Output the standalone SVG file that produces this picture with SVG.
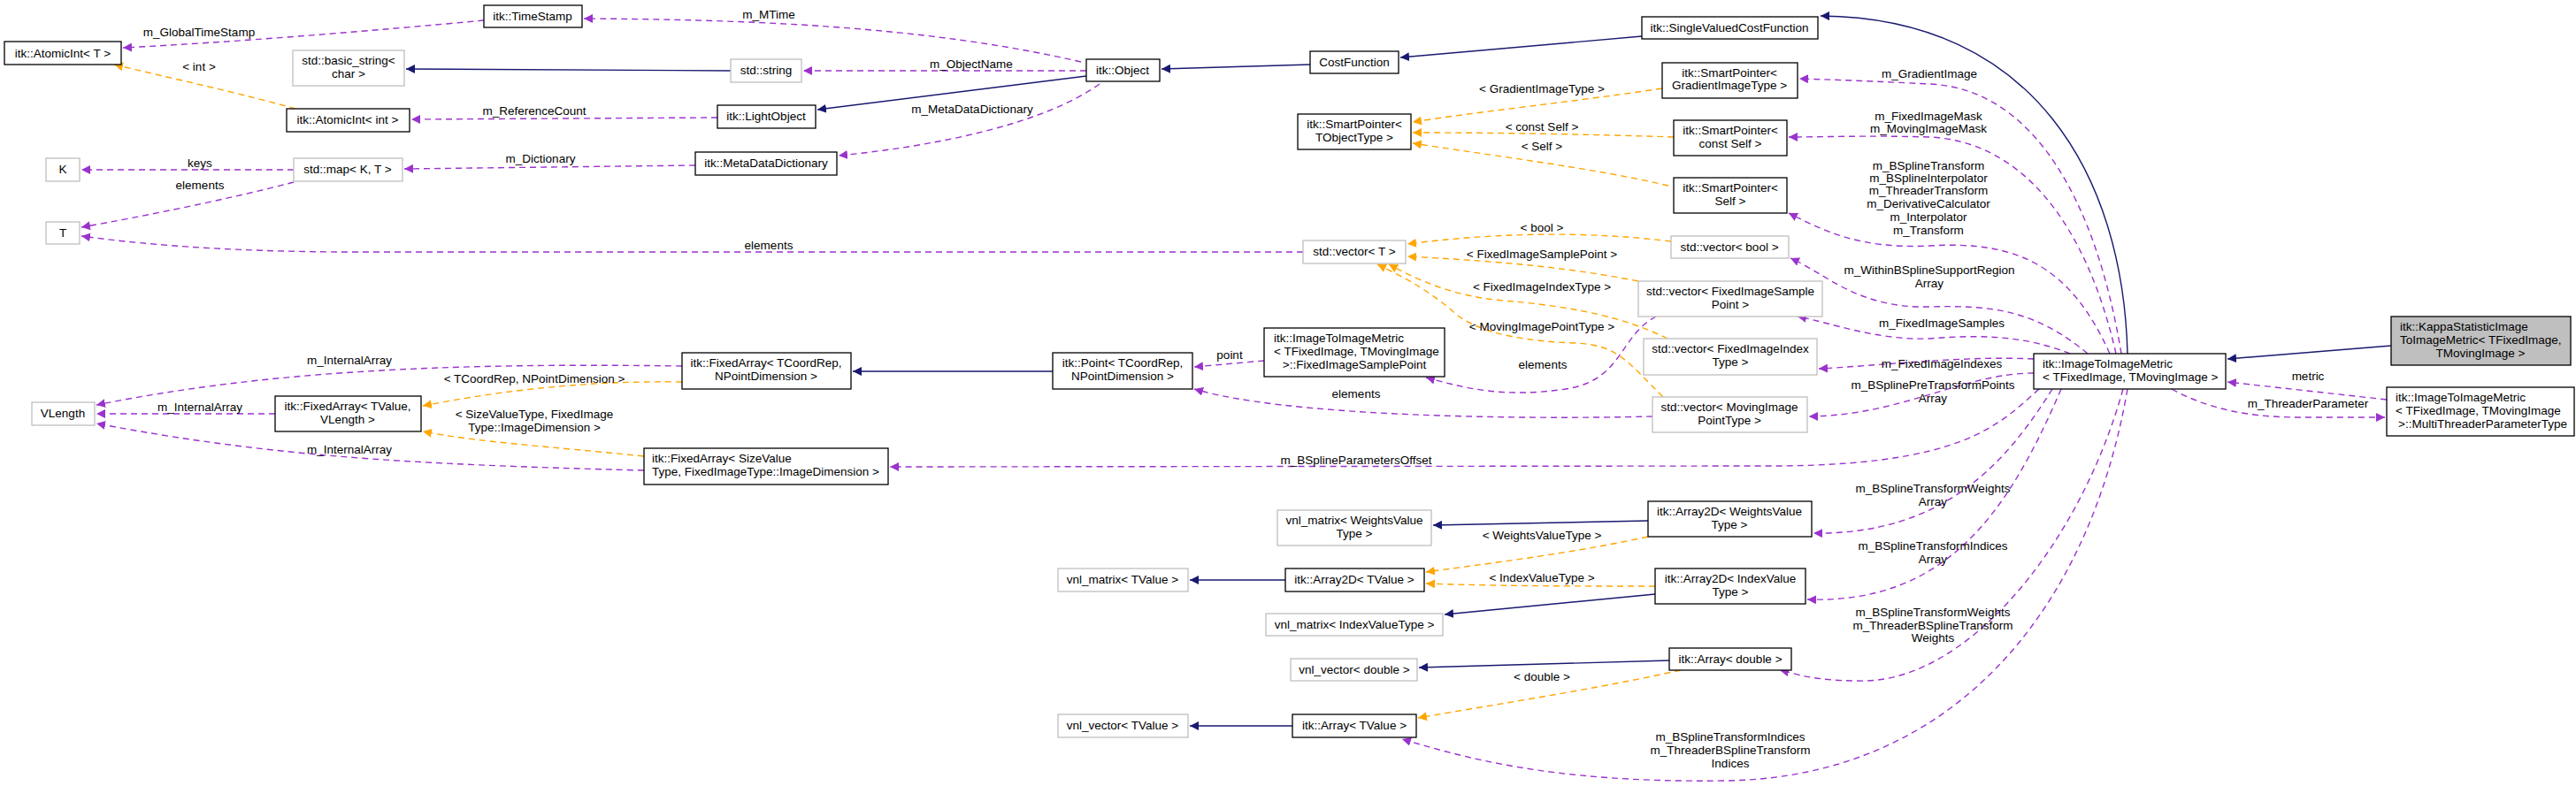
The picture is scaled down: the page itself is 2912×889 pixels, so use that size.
<svg xmlns="http://www.w3.org/2000/svg" width="2912" height="889" viewBox="0 0 2912 889">
<style>
text{font-family:"Liberation Sans",Arial,sans-serif;font-size:13.5px;fill:#000}
.c{text-anchor:middle}
.n rect{fill:#fff;stroke:#000;stroke-width:1.3}
.g rect{stroke:#bfbfbf}
.k rect{fill:#bfbfbf}
.e path{fill:none;stroke-width:1.4}
.p{stroke:#9a32cd;stroke-dasharray:7,5;marker-end:url(#mp)}
.o{stroke:#ffa500;stroke-dasharray:7,5;marker-end:url(#mo)}
.h{stroke:#191970;marker-end:url(#mh)}
</style>
<defs>
<marker id="mp" viewBox="0 0 10 10" refX="10" refY="5" markerWidth="10" markerHeight="10" markerUnits="userSpaceOnUse" orient="auto"><path d="M0,0L10,5L0,10z" fill="#9a32cd"/></marker>
<marker id="mo" viewBox="0 0 10 10" refX="10" refY="5" markerWidth="10" markerHeight="10" markerUnits="userSpaceOnUse" orient="auto"><path d="M0,0L10,5L0,10z" fill="#ffa500"/></marker>
<marker id="mh" viewBox="0 0 10 10" refX="10" refY="5" markerWidth="10" markerHeight="10" markerUnits="userSpaceOnUse" orient="auto"><path d="M0,0L10,5L0,10z" fill="#191970"/></marker>
</defs>
<rect width="2912" height="889" fill="#fff"/>
<g class="e" id="edges">
<path class="p" d="M547,23 C420,35 260,48 139,54"/>
<path class="p" d="M1222,70 C1050,30 850,22 660,21"/>
<path class="p" d="M1228,80 L908,80"/>
<path class="p" d="M811,133 L465,135"/>
<path class="p" d="M1243,95 C1180,140 1060,165 948,176"/>
<path class="p" d="M786,187 L457,191"/>
<path class="p" d="M332,192 L92,192"/>
<path class="p" d="M332,206 C260,225 160,245 92,257"/>
<path class="p" d="M1473,285 L400,285 C250,285 150,275 92,267"/>
<path class="p" d="M771,414 C500,410 300,420 109,458"/>
<path class="p" d="M311,468 L109,468"/>
<path class="p" d="M728,532 C450,525 300,515 109,479"/>
<path class="p" d="M1429,408 L1350,415"/>
<path class="p" d="M1868,471 C1700,475 1450,470 1350,440"/>
<path class="p" d="M1872,358 C1830,380 1835,430 1770,440 C1700,450 1660,440 1612,427"/>
<path class="p" d="M2398,400 C2370,230 2300,100 2181,95 C2120,92 2070,90 2034,89"/>
<path class="p" d="M2392,400 C2360,260 2290,160 2181,155 C2110,153 2060,155 2022,155"/>
<path class="p" d="M2385,400 C2340,300 2280,272 2181,278 C2100,282 2060,260 2022,241"/>
<path class="p" d="M2360,400 C2300,350 2250,345 2181,347 C2100,349 2065,310 2024,292"/>
<path class="p" d="M2340,400 C2290,380 2240,378 2181,383 C2120,385 2070,365 2032,358"/>
<path class="p" d="M2299,406 C2220,402 2120,414 2056,417"/>
<path class="p" d="M2299,422 C2220,422 2150,470 2045,471"/>
<path class="p" d="M2305,440 C2260,480 2220,527 2000,527 L1006,528"/>
<path class="p" d="M2320,440 C2270,520 2200,605 2050,603"/>
<path class="p" d="M2330,440 C2270,580 2200,683 2043,678"/>
<path class="p" d="M2400,440 C2350,620 2220,775 2100,770 C2050,770 2030,762 2012,758"/>
<path class="p" d="M2405,440 C2360,700 2200,880 1950,883 C1750,886 1650,855 1585,836"/>
<path class="p" d="M2455,440 C2500,465 2550,472 2600,472 L2696,472"/>
<path class="p" d="M2698,452 L2518,432"/>
<path class="o" d="M334,123 C270,105 200,90 129,73"/>
<path class="o" d="M771,432 C650,430 550,445 478,459"/>
<path class="o" d="M728,516 C620,505 540,500 478,488"/>
<path class="o" d="M1879,100 C1780,115 1680,125 1597,138"/>
<path class="o" d="M1892,155 C1800,152 1700,150 1597,150"/>
<path class="o" d="M1886,210 C1800,190 1700,178 1597,162"/>
<path class="o" d="M1889,273 C1800,262 1700,262 1591,276"/>
<path class="o" d="M1852,318 C1760,300 1680,295 1591,290"/>
<path class="o" d="M1885,383 C1830,355 1760,345 1700,340 C1640,335 1600,315 1570,299"/>
<path class="o" d="M1880,449 C1840,410 1830,390 1780,388 C1700,385 1660,370 1640,350 C1610,325 1580,310 1557,299"/>
<path class="o" d="M1863,607 C1780,625 1700,635 1612,647"/>
<path class="o" d="M1871,663 C1780,663 1700,663 1612,660"/>
<path class="o" d="M1900,758 C1800,780 1700,795 1603,812"/>
<path class="h" d="M826,80 L459,78"/>
<path class="h" d="M1228,86 L924,124"/>
<path class="h" d="M1481,73 L1313,78"/>
<path class="h" d="M1856,41 L1583,65"/>
<path class="h" d="M2405,400 C2400,200 2300,20 2058,18"/>
<path class="h" d="M2703,391 L2518,406"/>
<path class="h" d="M1190,420 L964,420"/>
<path class="h" d="M1863,589 L1620,594"/>
<path class="h" d="M1453,656 L1345,656"/>
<path class="h" d="M1871,672 L1633,695"/>
<path class="h" d="M1887,747 L1604,755"/>
<path class="h" d="M1461,821 L1345,821"/>
</g>
<g id="labels">
<text class="c" x="225" y="41">m_GlobalTimeStamp</text>
<text class="c" x="869" y="21">m_MTime</text>
<text class="c" x="1098" y="77">m_ObjectName</text>
<text class="c" x="604" y="130">m_ReferenceCount</text>
<text class="c" x="1099" y="128">m_MetaDataDictionary</text>
<text class="c" x="611" y="184">m_Dictionary</text>
<text class="c" x="226" y="189">keys</text>
<text class="c" x="226" y="214">elements</text>
<text class="c" x="869" y="282">elements</text>
<text class="c" x="395" y="412">m_InternalArray</text>
<text class="c" x="226" y="465">m_InternalArray</text>
<text class="c" x="395" y="513">m_InternalArray</text>
<text class="c" x="1390" y="406">point</text>
<text class="c" x="1533" y="450">elements</text>
<text class="c" x="1744" y="417">elements</text>
<text class="c" x="1533" y="525">m_BSplineParametersOffset</text>
<text class="c" x="2181" y="88">m_GradientImage</text>
<text class="c" x="2180" y="136">m_FixedImageMask</text>
<text class="c" x="2180" y="150">m_MovingImageMask</text>
<text class="c" x="2180" y="192">m_BSplineTransform</text>
<text class="c" x="2180" y="206">m_BSplineInterpolator</text>
<text class="c" x="2180" y="220">m_ThreaderTransform</text>
<text class="c" x="2180" y="235">m_DerivativeCalculator</text>
<text class="c" x="2180" y="250">m_Interpolator</text>
<text class="c" x="2180" y="265">m_Transform</text>
<text class="c" x="2181" y="310">m_WithinBSplineSupportRegion</text>
<text class="c" x="2181" y="325">Array</text>
<text class="c" x="2195" y="370">m_FixedImageSamples</text>
<text class="c" x="2195" y="416">m_FixedImageIndexes</text>
<text class="c" x="2185" y="440">m_BSplinePreTransformPoints</text>
<text class="c" x="2185" y="455">Array</text>
<text class="c" x="2185" y="557">m_BSplineTransformWeights</text>
<text class="c" x="2185" y="572">Array</text>
<text class="c" x="2185" y="622">m_BSplineTransformIndices</text>
<text class="c" x="2185" y="637">Array</text>
<text class="c" x="2185" y="697">m_BSplineTransformWeights</text>
<text class="c" x="2185" y="712">m_ThreaderBSplineTransform</text>
<text class="c" x="2185" y="726">Weights</text>
<text class="c" x="1956" y="838">m_BSplineTransformIndices</text>
<text class="c" x="1956" y="853">m_ThreaderBSplineTransform</text>
<text class="c" x="1956" y="868">Indices</text>
<text class="c" x="2609" y="430">metric</text>
<text class="c" x="2609" y="461">m_ThreaderParameter</text>
<text class="c" x="225" y="80">&lt; int &gt;</text>
<text class="c" x="604" y="433">&lt; TCoordRep, NPointDimension &gt;</text>
<text class="c" x="604" y="473">&lt; SizeValueType, FixedImage</text>
<text class="c" x="604" y="488">Type::ImageDimension &gt;</text>
<text class="c" x="1743" y="105">&lt; GradientImageType &gt;</text>
<text class="c" x="1743" y="148">&lt; const Self &gt;</text>
<text class="c" x="1743" y="170">&lt; Self &gt;</text>
<text class="c" x="1743" y="262">&lt; bool &gt;</text>
<text class="c" x="1743" y="292">&lt; FixedImageSamplePoint &gt;</text>
<text class="c" x="1743" y="329">&lt; FixedImageIndexType &gt;</text>
<text class="c" x="1743" y="374">&lt; MovingImagePointType &gt;</text>
<text class="c" x="1743" y="610">&lt; WeightsValueType &gt;</text>
<text class="c" x="1743" y="658">&lt; IndexValueType &gt;</text>
<text class="c" x="1743" y="770">&lt; double &gt;</text>
</g>
<g class="n" id="atomicT"><rect x="5" y="47" width="132" height="26"/><text class="c" x="71" y="65">itk::AtomicInt&lt; T &gt;</text></g>
<g class="n" id="timestamp"><rect x="547" y="6" width="111" height="25"/><text class="c" x="602" y="23">itk::TimeStamp</text></g>
<g class="n g" id="basicstring"><rect x="331" y="57" width="126" height="40"/><text class="c" x="394" y="73">std::basic_string&lt;</text><text class="c" x="394" y="88">char &gt;</text></g>
<g class="n" id="atomicint"><rect x="324" y="123" width="139" height="26"/><text class="c" x="393" y="140">itk::AtomicInt&lt; int &gt;</text></g>
<g class="n g" id="K"><rect x="52" y="179" width="38" height="26"/><text class="c" x="71" y="196">K</text></g>
<g class="n g" id="map"><rect x="332" y="179" width="123" height="26"/><text class="c" x="393" y="196">std::map&lt; K, T &gt;</text></g>
<g class="n g" id="T"><rect x="52" y="251" width="38" height="25"/><text class="c" x="71" y="268">T</text></g>
<g class="n g" id="vlength"><rect x="36" y="455" width="71" height="26"/><text class="c" x="71" y="472">VLength</text></g>
<g class="n" id="fixedTValue"><rect x="311" y="448" width="165" height="40"/><text class="c" x="393" y="464">itk::FixedArray&lt; TValue,</text><text class="c" x="393" y="479">VLength &gt;</text></g>
<g class="n" id="fixedTCoord"><rect x="771" y="399" width="191" height="41"/><text class="c" x="866" y="415">itk::FixedArray&lt; TCoordRep,</text><text class="c" x="866" y="430">NPointDimension &gt;</text></g>
<g class="n" id="fixedSize"><rect x="728" y="507" width="276" height="41"/><text x="737" y="523">itk::FixedArray&lt; SizeValue</text><text x="737" y="538">Type, FixedImageType::ImageDimension &gt;</text></g>
<g class="n g" id="stdstring"><rect x="826" y="67" width="80" height="26"/><text class="c" x="866" y="84">std::string</text></g>
<g class="n" id="object"><rect x="1228" y="67" width="83" height="25"/><text class="c" x="1269" y="84">itk::Object</text></g>
<g class="n" id="lightobject"><rect x="811" y="119" width="111" height="26"/><text class="c" x="866" y="136">itk::LightObject</text></g>
<g class="n" id="metadict"><rect x="786" y="172" width="160" height="26"/><text class="c" x="866" y="189">itk::MetaDataDictionary</text></g>
<g class="n" id="point"><rect x="1190" y="399" width="158" height="41"/><text class="c" x="1269" y="415">itk::Point&lt; TCoordRep,</text><text class="c" x="1269" y="430">NPointDimension &gt;</text></g>
<g class="n" id="fisp"><rect x="1429" y="371" width="204" height="55"/><text x="1440" y="387">itk::ImageToImageMetric</text><text x="1440" y="402">&lt; TFixedImage, TMovingImage</text><text x="1531" y="417" class="c">&gt;::FixedImageSamplePoint</text></g>
<g class="n" id="costfunction"><rect x="1481" y="58" width="100" height="25"/><text class="c" x="1531" y="75">CostFunction</text></g>
<g class="n" id="svcf"><rect x="1856" y="19" width="199" height="25"/><text class="c" x="1955" y="36">itk::SingleValuedCostFunction</text></g>
<g class="n" id="spT"><rect x="1467" y="129" width="128" height="40"/><text class="c" x="1531" y="145">itk::SmartPointer&lt;</text><text class="c" x="1531" y="160">TObjectType &gt;</text></g>
<g class="n" id="spGrad"><rect x="1879" y="71" width="153" height="40"/><text class="c" x="1955" y="87">itk::SmartPointer&lt;</text><text class="c" x="1955" y="101">GradientImageType &gt;</text></g>
<g class="n" id="spConst"><rect x="1892" y="136" width="128" height="40"/><text class="c" x="1956" y="152">itk::SmartPointer&lt;</text><text class="c" x="1956" y="167">const Self &gt;</text></g>
<g class="n" id="spSelf"><rect x="1892" y="201" width="128" height="40"/><text class="c" x="1956" y="217">itk::SmartPointer&lt;</text><text class="c" x="1956" y="232">Self &gt;</text></g>
<g class="n g" id="vecT"><rect x="1473" y="272" width="116" height="26"/><text class="c" x="1531" y="289">std::vector&lt; T &gt;</text></g>
<g class="n g" id="vecBool"><rect x="1889" y="267" width="133" height="25"/><text class="c" x="1955" y="284">std::vector&lt; bool &gt;</text></g>
<g class="n g" id="vecFISP"><rect x="1852" y="318" width="208" height="40"/><text class="c" x="1956" y="334">std::vector&lt; FixedImageSample</text><text class="c" x="1956" y="349">Point &gt;</text></g>
<g class="n g" id="vecFIIT"><rect x="1858" y="383" width="196" height="41"/><text class="c" x="1956" y="399">std::vector&lt; FixedImageIndex</text><text class="c" x="1956" y="414">Type &gt;</text></g>
<g class="n g" id="vecMIPT"><rect x="1868" y="449" width="175" height="40"/><text class="c" x="1955" y="465">std::vector&lt; MovingImage</text><text class="c" x="1955" y="480">PointType &gt;</text></g>
<g class="n" id="a2dW"><rect x="1863" y="567" width="185" height="40"/><text class="c" x="1955" y="583">itk::Array2D&lt; WeightsValue</text><text class="c" x="1955" y="598">Type &gt;</text></g>
<g class="n g" id="vnlmW"><rect x="1444" y="577" width="174" height="40"/><text class="c" x="1531" y="593">vnl_matrix&lt; WeightsValue</text><text class="c" x="1531" y="608">Type &gt;</text></g>
<g class="n" id="a2dT"><rect x="1453" y="643" width="157" height="26"/><text class="c" x="1531" y="660">itk::Array2D&lt; TValue &gt;</text></g>
<g class="n g" id="vnlmT"><rect x="1196" y="643" width="147" height="26"/><text class="c" x="1269" y="660">vnl_matrix&lt; TValue &gt;</text></g>
<g class="n" id="a2dI"><rect x="1871" y="643" width="170" height="40"/><text class="c" x="1956" y="659">itk::Array2D&lt; IndexValue</text><text class="c" x="1956" y="674">Type &gt;</text></g>
<g class="n g" id="vnlmI"><rect x="1431" y="694" width="200" height="25"/><text class="c" x="1531" y="711">vnl_matrix&lt; IndexValueType &gt;</text></g>
<g class="n" id="arrD"><rect x="1887" y="733" width="138" height="25"/><text class="c" x="1956" y="750">itk::Array&lt; double &gt;</text></g>
<g class="n g" id="vnlvD"><rect x="1459" y="745" width="143" height="25"/><text class="c" x="1531" y="762">vnl_vector&lt; double &gt;</text></g>
<g class="n" id="arrT"><rect x="1461" y="808" width="140" height="26"/><text class="c" x="1531" y="825">itk::Array&lt; TValue &gt;</text></g>
<g class="n g" id="vnlvT"><rect x="1196" y="808" width="147" height="26"/><text class="c" x="1269" y="825">vnl_vector&lt; TValue &gt;</text></g>
<g class="n" id="itim"><rect x="2299" y="400" width="217" height="40"/><text x="2309" y="416">itk::ImageToImageMetric</text><text x="2309" y="431">&lt; TFixedImage, TMovingImage &gt;</text></g>
<g class="n k" id="kappa"><rect x="2703" y="358" width="203" height="55"/><text x="2713" y="374">itk::KappaStatisticImage</text><text x="2713" y="389">ToImageMetric&lt; TFixedImage,</text><text class="c" x="2804" y="404">TMovingImage &gt;</text></g>
<g class="n" id="mtpt"><rect x="2698" y="438" width="212" height="55"/><text x="2708" y="454">itk::ImageToImageMetric</text><text x="2708" y="469">&lt; TFixedImage, TMovingImage</text><text x="2711" y="484">&gt;::MultiThreaderParameterType</text></g>
</svg>
